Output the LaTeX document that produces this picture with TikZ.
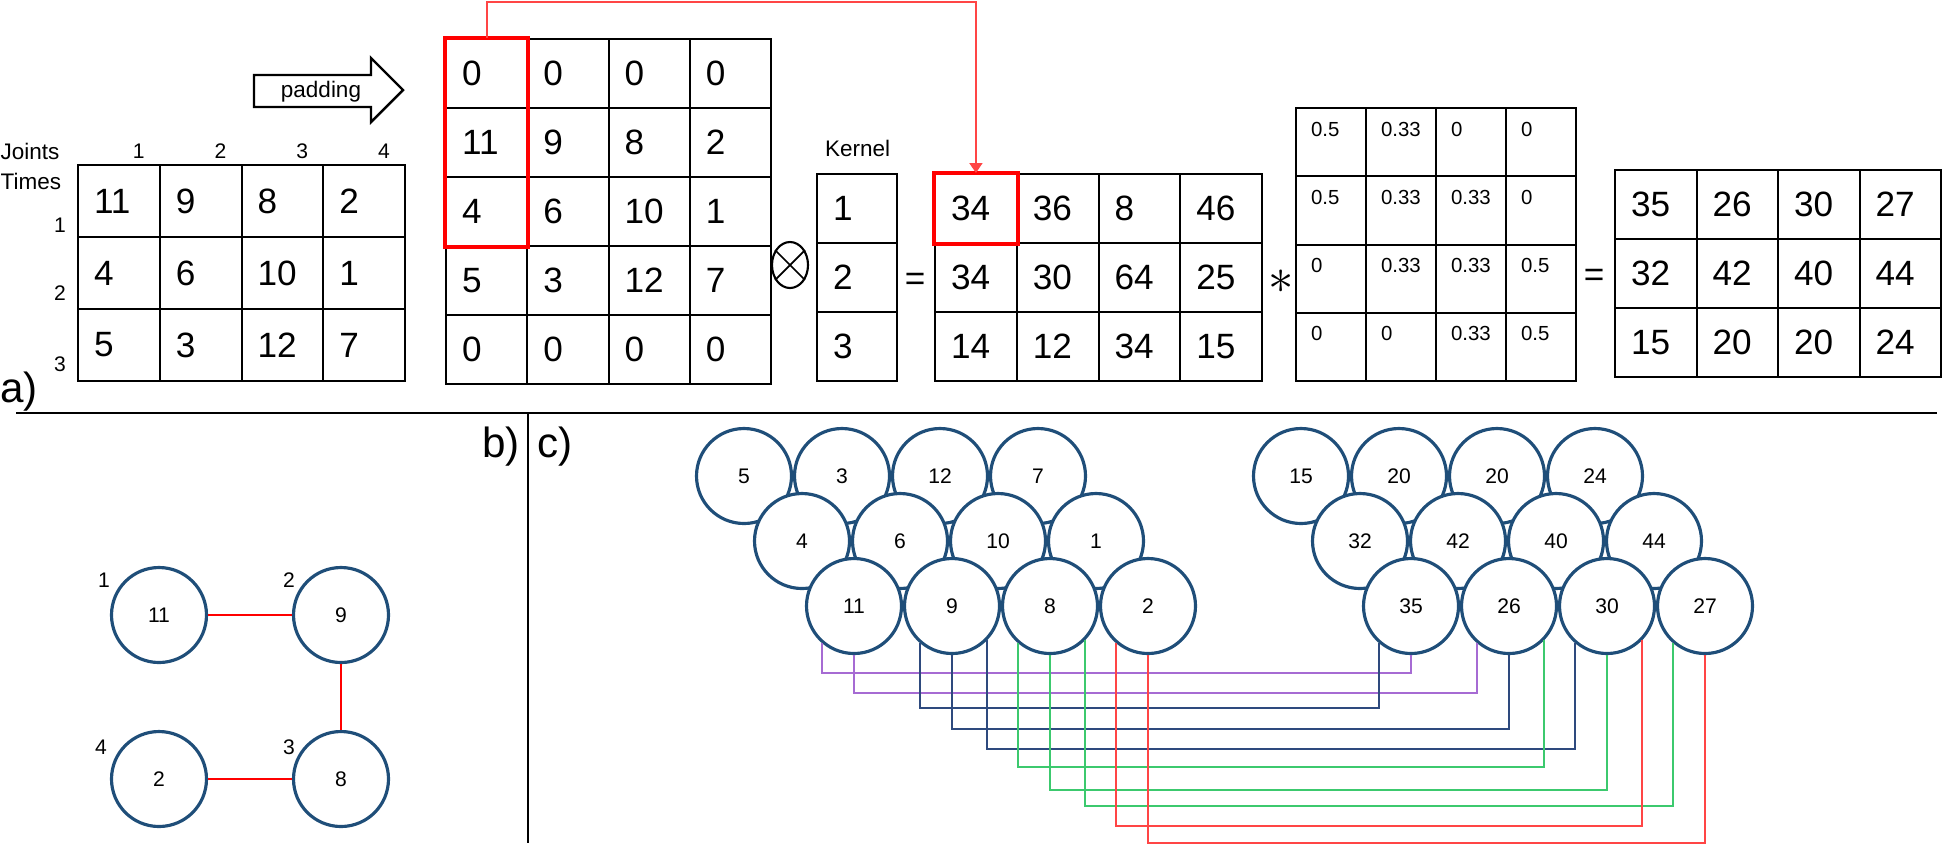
\documentclass[tikz,border=0pt]{standalone}
\usepackage{fontspec}
\setmainfont{Liberation Sans}
\usepackage{tikz}
\usetikzlibrary{shapes.geometric,arrows.meta,positioning,calc}

\definecolor{nodeblue}{HTML}{1F4E79}
\definecolor{linkpurple}{HTML}{A66BD3}
\definecolor{linknavy}{HTML}{2E4A7E}
\definecolor{linkgreen}{HTML}{3CC96E}
\definecolor{linkred}{HTML}{FF4545}

\begin{document}
\begin{tikzpicture}
    % Stili
    \tikzset{
        cell/.style={draw, line width=0.6pt, anchor=north west, inner xsep=0.16cm, inner ysep=0pt, align=left, font=\fontsize{10}{12}\selectfont},
        incell/.style={cell, minimum width=0.8175cm, minimum height=0.72cm, text width=0.4975cm},
        padcell/.style={cell, minimum width=0.8125cm, minimum height=0.69cm, text width=0.4925cm},
        kercell/.style={cell, minimum width=0.80cm, minimum height=0.69cm, text width=0.48cm},
        rescell/.style={cell, minimum width=0.8175cm, minimum height=0.69cm, text width=0.4975cm},
        fincell/.style={cell, minimum width=0.815cm, minimum height=0.69cm, text width=0.495cm},
        wcell/.style={draw, line width=0.6pt, anchor=north west, inner xsep=0.15cm, inner ysep=0pt, align=left, minimum width=0.70cm, minimum height=0.6825cm, text width=0.40cm, text height=0.28cm, text depth=0.4025cm, font=\fontsize{5.8}{6}\selectfont},
        bub/.style={circle, draw=nodeblue, line width=0.9pt, fill=white, minimum size=0.95cm, inner sep=0pt, font=\fontsize{6}{7}\selectfont},
        tag/.style={inner sep=0pt, font=\fontsize{6}{7}\selectfont},
        word/.style={inner sep=0pt, font=\fontsize{6.4}{7}\selectfont},
        part/.style={inner sep=0pt, font=\fontsize{12}{14}\selectfont},
        sym/.style={inner sep=0pt, font=\fontsize{10}{12}\selectfont},
        hl/.style={draw=red, line width=1.2pt},
        link/.style={line width=0.6pt},
        sep/.style={line width=0.5pt}
    }
    \useasboundingbox (0,0) rectangle (19.43,-8.45);

    % a) matrice di ingresso
    \node[word, anchor=west] (joints) at (0,-1.51) {Joints};
    \node[word, anchor=west] (times) at (0,-1.81) {Times};
    \foreach \c in {1,...,4} \node[tag] (jt-\c) at ({0.77+\c*0.8175-0.20},-1.51) {\c};
    \node[tag] (tm-1) at (0.60,-2.25) {1};
    \node[tag] (tm-2) at (0.60,-2.93) {2};
    \node[tag] (tm-3) at (0.60,-3.64) {3};
    \foreach \v [count=\c] in {11,9,8,2} \node[incell] (in-1-\c) at ({0.77+(\c-1)*0.8175},-1.64) {\v};
    \foreach \v [count=\c] in {4,6,10,1} \node[incell] (in-2-\c) at ({0.77+(\c-1)*0.8175},-2.36) {\v};
    \foreach \v [count=\c] in {5,3,12,7} \node[incell] (in-3-\c) at ({0.77+(\c-1)*0.8175},-3.08) {\v};
    \node[part] (pa) at (0.19,-3.92) {a)};

    % Padding
    \draw[line width=0.7pt] (2.54,-0.75) -- (3.71,-0.75) -- (3.71,-0.58) -- (4.03,-0.90) -- (3.71,-1.22) -- (3.71,-1.07) -- (2.54,-1.07) -- cycle;
    \node[word] (padtxt) at (3.21,-0.92) {padding};
    \foreach \v [count=\c] in {0,0,0,0} \node[padcell] (pad-1-\c) at ({4.45+(\c-1)*0.8125},-0.38) {\v};
    \foreach \v [count=\c] in {11,9,8,2} \node[padcell] (pad-2-\c) at ({4.45+(\c-1)*0.8125},-1.07) {\v};
    \foreach \v [count=\c] in {4,6,10,1} \node[padcell] (pad-3-\c) at ({4.45+(\c-1)*0.8125},-1.76) {\v};
    \foreach \v [count=\c] in {5,3,12,7} \node[padcell] (pad-4-\c) at ({4.45+(\c-1)*0.8125},-2.45) {\v};
    \foreach \v [count=\c] in {0,0,0,0} \node[padcell] (pad-5-\c) at ({4.45+(\c-1)*0.8125},-3.14) {\v};
    \draw[hl] (pad-1-1.north west) rectangle (pad-3-1.south east);

    % Kernel
    \node[ellipse, draw, line width=0.6pt, minimum width=0.36cm, minimum height=0.46cm, inner sep=0pt] (ot) at (7.90,-2.65) {};
    \draw[line width=0.5pt] (ot.135) -- (ot.-45);
    \draw[line width=0.5pt] (ot.45) -- (ot.-135);
    \node[word] (kertxt) at (8.575,-1.48) {Kernel};
    \foreach \v [count=\r] in {1,2,3} \node[kercell] (ker-\r) at (8.16,{-1.73-(\r-1)*0.69}) {\v};
    \node[sym] (eq1) at (9.15,-2.82) {=};

    % Risultato della convoluzione
    \foreach \v [count=\c] in {34,36,8,46} \node[rescell] (res-1-\c) at ({9.34+(\c-1)*0.8175},-1.73) {\v};
    \foreach \v [count=\c] in {34,30,64,25} \node[rescell] (res-2-\c) at ({9.34+(\c-1)*0.8175},-2.42) {\v};
    \foreach \v [count=\c] in {14,12,34,15} \node[rescell] (res-3-\c) at ({9.34+(\c-1)*0.8175},-3.11) {\v};
    \draw[hl] (res-1-1.north west) rectangle (res-1-1.south east);
    \draw[linkred, line width=0.5pt, -{Triangle[length=0.10cm, width=0.13cm]}] (pad-1-1.north) -- ++(0,0.36) -| (res-1-1.north);
    \node[sym, font=\fontsize{15}{15}\selectfont] (star) at (12.81,-2.82) {$\ast$};

    % Matrice dei pesi
    \foreach \v [count=\c] in {0.5,0.33,0,0} \node[wcell] (wt-1-\c) at ({12.95+(\c-1)*0.70},-1.07) {\v};
    \foreach \v [count=\c] in {0.5,0.33,0.33,0} \node[wcell] (wt-2-\c) at ({12.95+(\c-1)*0.70},-1.7525) {\v};
    \foreach \v [count=\c] in {0,0.33,0.33,0.5} \node[wcell] (wt-3-\c) at ({12.95+(\c-1)*0.70},-2.435) {\v};
    \foreach \v [count=\c] in {0,0,0.33,0.5} \node[wcell] (wt-4-\c) at ({12.95+(\c-1)*0.70},-3.1175) {\v};
    \node[sym] (eq2) at (15.94,-2.78) {=};

    % Uscita
    \foreach \v [count=\c] in {35,26,30,27} \node[fincell] (fin-1-\c) at ({16.14+(\c-1)*0.815},-1.69) {\v};
    \foreach \v [count=\c] in {32,42,40,44} \node[fincell] (fin-2-\c) at ({16.14+(\c-1)*0.815},-2.38) {\v};
    \foreach \v [count=\c] in {15,20,20,24} \node[fincell] (fin-3-\c) at ({16.14+(\c-1)*0.815},-3.07) {\v};

    % Separatori
    \draw[sep] (0.16,-4.13) -- (19.37,-4.13);
    \draw[sep] (5.28,-4.13) -- (5.28,-8.43);
    \node[part] (pb) at (5.01,-4.47) {b)};
    \node[part] (pc) at (5.55,-4.47) {c)};

    % b) grafo dello scheletro
    \node[bub] (b11) at (1.59,-6.15) {11};
    \node[bub] (b9) at (3.41,-6.15) {9};
    \node[bub] (b2) at (1.59,-7.79) {2};
    \node[bub] (b8) at (3.41,-7.79) {8};
    \node[tag] (bt-1) at (1.04,-5.80) {1};
    \node[tag] (bt-2) at (2.89,-5.80) {2};
    \node[tag] (bt-4) at (1.01,-7.47) {4};
    \node[tag] (bt-3) at (2.89,-7.47) {3};
    \draw[red, line width=0.6pt] (b11) -- (b9);
    \draw[red, line width=0.6pt] (b9) -- (b8);
    \draw[red, line width=0.6pt] (b2) -- (b8);

    % c) strati di nodi
    \foreach \v [count=\i] in {5,3,12,7} \node[bub] (la-\i) at ({7.44+(\i-1)*0.98},-4.76) {\v};
    \foreach \v [count=\i] in {4,6,10,1} \node[bub] (lb-\i) at ({8.02+(\i-1)*0.98},-5.41) {\v};
    \foreach \v [count=\i] in {11,9,8,2} \node[bub] (lc-\i) at ({8.54+(\i-1)*0.98},-6.06) {\v};
    \foreach \v [count=\i] in {15,20,20,24} \node[bub] (ra-\i) at ({13.01+(\i-1)*0.98},-4.76) {\v};
    \foreach \v [count=\i] in {32,42,40,44} \node[bub] (rb-\i) at ({13.60+(\i-1)*0.98},-5.41) {\v};
    \foreach \v [count=\i] in {35,26,30,27} \node[bub] (rc-\i) at ({14.11+(\i-1)*0.98},-6.06) {\v};

    % Collegamenti
    \coordinate (lv1) at (0,-6.73);
    \coordinate (lv2) at (0,-6.93);
    \coordinate (lv3) at (0,-7.08);
    \coordinate (lv4) at (0,-7.29);
    \coordinate (lv5) at (0,-7.49);
    \coordinate (lv6) at (0,-7.67);
    \coordinate (lv7) at (0,-7.90);
    \coordinate (lv8) at (0,-8.06);
    \coordinate (lv9) at (0,-8.26);
    \coordinate (lv10) at (0,-8.43);
    \draw[link, linkpurple] (lc-1.-131) |- (rc-1.south |- lv1) -- (rc-1.south);
    \draw[link, linkpurple] (lc-1.south) |- (rc-2.-131 |- lv2) -- (rc-2.-131);
    \draw[link, linknavy] (lc-2.-131) |- (rc-1.-131 |- lv3) -- (rc-1.-131);
    \draw[link, linknavy] (lc-2.south) |- (rc-2.south |- lv4) -- (rc-2.south);
    \draw[link, linknavy] (lc-2.-44) |- (rc-3.-131 |- lv5) -- (rc-3.-131);
    \draw[link, linkgreen] (lc-3.-131) |- (rc-2.-44 |- lv6) -- (rc-2.-44);
    \draw[link, linkgreen] (lc-3.south) |- (rc-3.south |- lv7) -- (rc-3.south);
    \draw[link, linkgreen] (lc-3.-44) |- (rc-4.-131 |- lv8) -- (rc-4.-131);
    \draw[link, linkred] (lc-4.-131) |- (rc-3.-44 |- lv9) -- (rc-3.-44);
    \draw[link, linkred] (lc-4.south) |- (rc-4.south |- lv10) -- (rc-4.south);
\end{tikzpicture}
\end{document}
